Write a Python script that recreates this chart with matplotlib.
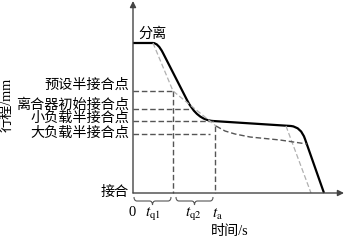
import matplotlib
matplotlib.use("Agg")
import matplotlib.pyplot as plt
from matplotlib.path import Path
from matplotlib.patches import PathPatch

plt.rcParams['font.family'] = ['Liberation Serif', 'Noto Sans CJK SC', 'DejaVu Sans']
plt.rcParams['mathtext.fontset'] = 'stix'

# time / travel (arbitrary units)
t_q1 = 40
t_a = 82
s_sep = 150      # 分离
s_preset = 102   # 预设半接合点
s_init = 84      # 离合器初始接合点
s_small = 72     # 小负载半接合点
s_large = 59     # 大负载半接合点

# main solid curve (control points, drawn as quadratic beziers at corners)
solid_t = [0, 20, 25, 30, 54, 64, 80, 158, 168, 172, 191]
solid_s = [150, 150, 150, 140, 93, 73, 72, 67, 66, 54, 0]
solid_codes = [Path.MOVETO, Path.LINETO, Path.CURVE3, Path.CURVE3, Path.LINETO,
               Path.CURVE3, Path.CURVE3, Path.LINETO, Path.CURVE3, Path.CURVE3,
               Path.LINETO]

# light grey dashed reference
ref1_t = [20, 40, 83]
ref1_s = [150, 102, 67]
ref2_t = [153, 178]
ref2_s = [67, 0]

# large load dashed curve after t_a
large_t = [83, 92, 102, 117, 147, 174]
large_s = [67, 62, 59, 56, 53, 49]

levels = [s_preset, s_init, s_small, s_large]
level_ends = [40, 57, 81, 77]
level_labels = ['预设半接合点', '离合器初始接合点', '小负载半接合点', '大负载半接合点']
label_s = [108, 88, 75, 60]

fig = plt.figure(figsize=(3.45, 2.44), dpi=100)
ax = fig.add_axes([0, 0, 1, 1])
ax.set_xlim(-133, 212)
ax.set_ylim(-51, 193)
ax.axis('off')

dark = '#555555'
light = '#b0b0b0'

for lv, te in zip(levels, level_ends):
    ax.plot([0, te], [lv, lv], color=dark, lw=1.0, dashes=(4, 2))
ax.plot([t_q1, t_q1], [s_preset, 0], color=dark, lw=1.0, dashes=(4, 2))
ax.plot([t_a, t_a], [67, 0], color=dark, lw=1.0, dashes=(4, 2))

ax.plot(ref1_t, ref1_s, color=light, lw=0.9, dashes=(4, 2))
ax.plot(ref2_t, ref2_s, color=light, lw=0.9, dashes=(4, 2))
ax.plot(large_t, large_s, color=dark, lw=1.0, dashes=(4, 2))

path = Path(list(zip(solid_t, solid_s)), solid_codes)
ax.add_patch(PathPatch(path, fill=False, edgecolor='black', lw=1.6))

# axes with arrows
ax.annotate('', xy=(211, 0), xytext=(0, 0),
            arrowprops=dict(arrowstyle='-|>', color='#444444', lw=1.0,
                            mutation_scale=9, shrinkA=0, shrinkB=0))
ax.annotate('', xy=(0, 192), xytext=(0, 0),
            arrowprops=dict(arrowstyle='-|>', color='#444444', lw=1.0,
                            mutation_scale=9, shrinkA=0, shrinkB=0))


def brace(a, b):
    m = (a + b) / 2
    verts = [(a, -4), (a, -8), (a + 3, -8), (m - 3, -8), (m, -8), (m, -12),
             (m, -8), (m + 3, -8), (b - 3, -8), (b, -8), (b, -4)]
    codes = [Path.MOVETO, Path.CURVE3, Path.CURVE3, Path.LINETO, Path.CURVE3,
             Path.CURVE3, Path.CURVE3, Path.CURVE3, Path.LINETO, Path.CURVE3,
             Path.CURVE3]
    ax.add_patch(PathPatch(Path(verts, codes), fill=False, edgecolor=dark, lw=0.8))


brace(1, 38)
brace(43, 80)

fs = 10.2
for txt, s in zip(level_labels, label_s):
    ax.text(-4, s, txt, ha='right', va='center', fontsize=fs)
ax.text(-4, 1, '接合', ha='right', va='center', fontsize=fs)
ax.text(20, 159, '分离', ha='center', va='center', fontsize=fs)
ax.text(-126, 88, '行程/mm', ha='center', va='center', rotation=90, fontsize=fs)
ax.text(97, -39, '时间/s', ha='center', va='center', fontsize=fs)

ax.text(-1, -19, '0', ha='center', va='center', fontsize=10.5)
ax.text(20, -21, r'$t_{\rm q1}$', ha='center', va='center', fontsize=11)
ax.text(60, -21, r'$t_{\rm q2}$', ha='center', va='center', fontsize=11)
ax.text(84, -21, r'$t_{\rm a}$', ha='center', va='center', fontsize=11)

fig.savefig('out.png', dpi=100)
